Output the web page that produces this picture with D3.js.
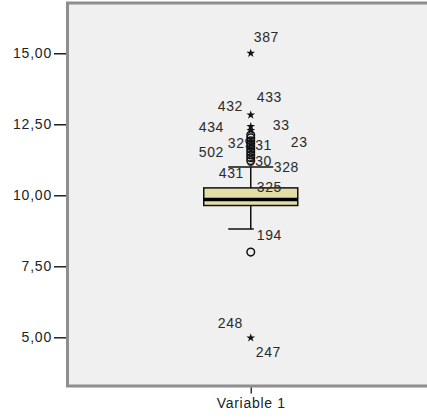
<!DOCTYPE html>
<html><head><meta charset="utf-8">
<script src="https://cdn.jsdelivr.net/npm/d3@7"></script>
<style>
html,body{margin:0;padding:0;background:#fff;}
svg{display:block;font-family:"Liberation Sans",Arial,sans-serif;}
</style></head>
<body>
<svg id="c" width="427" height="418"></svg>
<script>
// ---- data ----
const categories = ["Variable 1"];
const tickValues = [5, 7.5, 10, 12.5, 15];
const tickLabels = ["5,00", "7,50", "10,00", "12,50", "15,00"];
const quartiles = [9.64, 9.85, 10.26];      // Q1, median, Q3
const whiskers = [8.81, 11.0];               // low, high
const outlierValues = [8.0, 12.12, 12.02, 11.92, 11.82, 11.72, 11.62, 11.52, 11.42, 11.32, 11.22];
const extremeValues = [15.0, 12.83, 12.42, 12.28, 4.98];
const labelTexts  = ["387", "433", "432", "434", "33", "23", "502", "329", "331", "330", "328", "431", "325", "194", "248", "247"];
const labelValues = [15.41, 13.30, 12.98, 12.24, 12.30, 11.71, 11.36, 11.67, 11.60, 11.04, 10.82, 10.61, 10.12, 8.43, 5.33, 4.31];
const labelOffsets = [3, 6, -33, -52, 22, 40, -52, -23, -4, -4, 23, -32, 6, 6, -33, 5];

// ---- layout ----
const svg = d3.select("#c");
const plotLeft = 67.5, plotRight = 434, plotTop = 3, plotBottom = 386;
const y = d3.scaleLinear().domain([3.285, 16.77]).range([plotBottom, plotTop]);
const x = d3.scalePoint().domain(categories).range([plotLeft, plotRight]).padding(0.5);
const cx = x(categories[0]);
const boxW = 94, capW = 45;

// plot background & frame
svg.append("rect").attr("x", plotLeft).attr("y", plotTop)
  .attr("width", 440 - plotLeft).attr("height", plotBottom - plotTop)
  .attr("fill", "#f0f0f0").attr("stroke", "#8e8e8e").attr("stroke-width", 3);

// left axis
const yAxis = d3.axisLeft(y).tickValues(tickValues)
  .tickFormat((d, i) => tickLabels[i]).tickSize(12).tickPadding(2);
const gy = svg.append("g").attr("transform", `translate(${plotLeft - 1.5},0)`).call(yAxis);
gy.select(".domain").remove();
gy.selectAll(".tick line").attr("stroke", "#222").attr("stroke-width", 1.5);
gy.selectAll(".tick text").attr("fill", "#222").style("font-size", "14px").style("letter-spacing", "0.8px")
  .attr("font-family", null);

// bottom axis
const xAxis = d3.axisBottom(x).tickSize(6).tickPadding(5);
const gx = svg.append("g").attr("transform", `translate(0,${plotBottom + 1.5})`).call(xAxis);
gx.select(".domain").remove();
gx.selectAll(".tick line").attr("stroke", "#333").attr("stroke-width", 1.5);
gx.selectAll(".tick text").attr("fill", "#222").style("font-size", "14px").style("letter-spacing", "0.7px")
  .attr("font-family", null);

const g = svg.append("g");

// whiskers
g.append("line").attr("x1", cx).attr("x2", cx).attr("y1", y(whiskers[0])).attr("y2", y(quartiles[0]))
  .attr("stroke", "#111").attr("stroke-width", 1.5);
g.append("line").attr("x1", cx).attr("x2", cx).attr("y1", y(quartiles[2])).attr("y2", y(whiskers[1]))
  .attr("stroke", "#111").attr("stroke-width", 1.5);
whiskers.forEach(w => {
  g.append("line").attr("x1", cx - capW / 2).attr("x2", cx + capW / 2)
    .attr("y1", y(w)).attr("y2", y(w)).attr("stroke", "#111").attr("stroke-width", 1.5);
});

// box
g.append("rect").attr("x", cx - boxW / 2).attr("width", boxW)
  .attr("y", y(quartiles[2])).attr("height", y(quartiles[0]) - y(quartiles[2]))
  .attr("fill", "#e2dea6").attr("stroke", "#111").attr("stroke-width", 1.5);
g.append("line").attr("x1", cx - boxW / 2).attr("x2", cx + boxW / 2)
  .attr("y1", y(quartiles[1])).attr("y2", y(quartiles[1]))
  .attr("stroke", "#000").attr("stroke-width", 3.5);

// labels
const lab = g.append("g");
labelTexts.forEach((t, i) => {
  const tx = cx + labelOffsets[i], ty = y(labelValues[i]);
  if (t === "194") {
    lab.append("rect").attr("x", tx - 3).attr("y", ty - 12).attr("width", 30).attr("height", 14).attr("fill", "#f0f0f0");
  }
  lab.append("text").attr("x", tx).attr("y", ty).text(t)
    .attr("fill", "#2a2a2a").style("font-size", "14px").style("letter-spacing", "0.6px");
});

// outliers (circles)
g.selectAll("circle.out").data(outlierValues).join("circle").attr("class", "out")
  .attr("cx", cx).attr("cy", d => y(d)).attr("r", 3.8)
  .attr("fill", "none").attr("stroke", "#111").attr("stroke-width", 1.5);

// extremes (stars)
const star = d3.symbol().type(d3.symbolStar).size(24);
g.selectAll("path.ext").data(extremeValues).join("path").attr("class", "ext")
  .attr("d", star).attr("transform", d => `translate(${cx},${y(d)})`).attr("fill", "#111");
</script>
</body></html>
